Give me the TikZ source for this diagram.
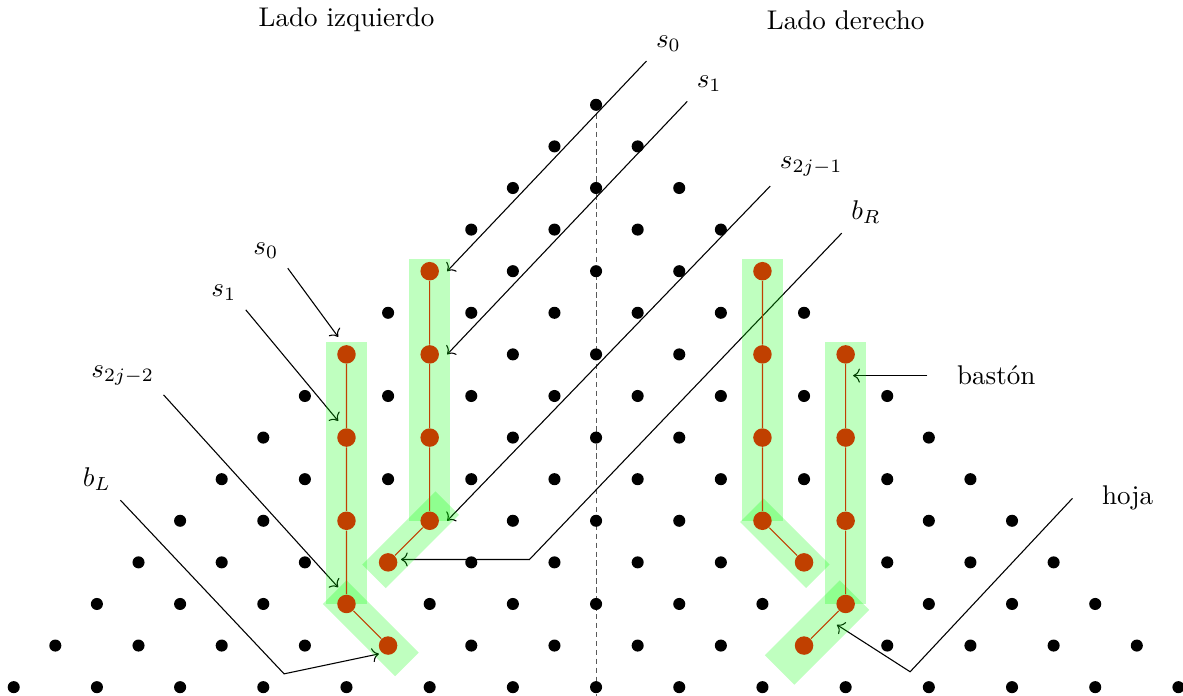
\documentclass[tikz,border=0pt]{standalone}
\usepackage{tikz}
\usetikzlibrary{arrows.meta}
\definecolor{hojacol}{RGB}{192,64,0}

\begin{document}
\begin{tikzpicture}[
    x=0.54cm, y=0.54cm, >=To,
    hdot/.style={circle, fill=hojacol, inner sep=0pt, minimum size=2.4mm},
    tallo/.style={hojacol, thin},
    band/.style={green, opacity=0.25},
    flecha/.style={->, thin}
  ]
  \useasboundingbox (-14.33,-14.21) rectangle (14.11,2.52);

  % --- symmetry axis and lattice ---
  \draw[black!65, dash pattern=on 2pt off 1.3pt] (0,0) -- (0,-14.21);
  \foreach \k in {0,...,14}
    \foreach \i in {0,...,\k}
      \fill ({2*\i-\k},-\k) circle (0.145);

  % --- headings ---
  \node (izq) at (-6,2.04) {Lado izquierdo};
  \node (der) at (6,2.04)  {Lado derecho};

  % --- labels ---
  \node (s0R) at (1.74,1.47)   {$s_0$};
  \node (s1R) at (2.72,0.50)   {$s_1$};
  \node (sjR) at (5.17,-1.49)  {$s_{2j-1}$};
  \node (bR)  at (6.49,-2.58)  {$b_R$};
  \node (s0L) at (-7.94,-3.51) {$s_0$};
  \node (s1L) at (-8.95,-4.51) {$s_1$};
  \node (sjL) at (-11.38,-6.51) {$s_{2j-2}$};
  \node (bL)  at (-12,-9)      {$b_L$};
  \node (baston) at (9.62,-6.51) {bastón};
  \node (hoja)   at (12.78,-9.46) {hoja};

  % arrow ends and bends
  \coordinate (tS0R) at (-3.58,-4);
  \coordinate (tS1R) at (-3.58,-6);
  \coordinate (tSjR) at (-3.58,-10);
  \coordinate (kR)   at (-1.6,-10.93);
  \coordinate (tBR)  at (-4.69,-10.93);
  \coordinate (tS0L) at (-6.2,-5.58);
  \coordinate (tS1L) at (-6.2,-7.6);
  \coordinate (tSjL) at (-6.2,-11.6);
  \coordinate (kL)   at (-7.5,-13.68);
  \coordinate (tBL)  at (-5.22,-13.2);
  \coordinate (tBa)  at (6.18,-6.51);
  \coordinate (kH)   at (7.55,-13.63);
  \coordinate (tH)   at (5.79,-12.5);

  \draw[flecha] (s0R.south west) -- (tS0R);
  \draw[flecha] (s1R.south west) -- (tS1R);
  \draw[flecha] (sjR.south west) -- (tSjR);
  \draw[flecha] (bR.south west) -- (kR) -- (tBR);
  \draw[flecha] (s0L.south east) -- (tS0L);
  \draw[flecha] (s1L.south east) -- (tS1L);
  \draw[flecha] (sjL.south east) -- (tSjL);
  \draw[flecha] (bL.south east) -- (kL) -- (tBL);
  \draw[flecha] ([xshift=-7.4pt]baston.west) -- (tBa);
  \draw[flecha] ([xshift=-7.4pt]hoja.west) -- (kH) -- (tH);

  % --- highlighted sticks and leaves ---
  \fill[band] (-6.5,-5.7) rectangle (-5.5,-12);
  \fill[band] (-4.5,-3.7) rectangle (-3.5,-10);
  \fill[band] (3.5,-3.7) rectangle (4.5,-10);
  \fill[band] (5.5,-5.7) rectangle (6.5,-12);
  \foreach \ax/\ay/\bx/\by/\w/\s/\e in {-6/-12/-5/-13/0.432/0.216/0.346,
                                        -4/-10/-5/-11/0.432/0.324/0.259,
                                        4/-10/5/-11/0.432/0.194/0.254,
                                        6/-12/5/-13/0.54/0.162/0.448}
    \draw[band, line width=\w cm, shorten <=-\s cm, shorten >=-\e cm] (\ax,\ay) -- (\bx,\by);

  \foreach \j in {0,...,3} {
    \node[hdot] (lA\j) at (-6,{-6-2*\j}) {};
    \node[hdot] (lB\j) at (-4,{-4-2*\j}) {};
    \node[hdot] (rA\j) at (4,{-4-2*\j}) {};
    \node[hdot] (rB\j) at (6,{-6-2*\j}) {};
  }
  \node[hdot] (lAh) at (-5,-13) {};
  \node[hdot] (lBh) at (-5,-11) {};
  \node[hdot] (rAh) at (5,-11) {};
  \node[hdot] (rBh) at (5,-13) {};
  \draw[tallo] (lA0) -- (lA1) -- (lA2) -- (lA3) -- (lAh);
  \draw[tallo] (lB0) -- (lB1) -- (lB2) -- (lB3) -- (lBh);
  \draw[tallo] (rA0) -- (rA1) -- (rA2) -- (rA3) -- (rAh);
  \draw[tallo] (rB0) -- (rB1) -- (rB2) -- (rB3) -- (rBh);

\end{tikzpicture}
\end{document}
